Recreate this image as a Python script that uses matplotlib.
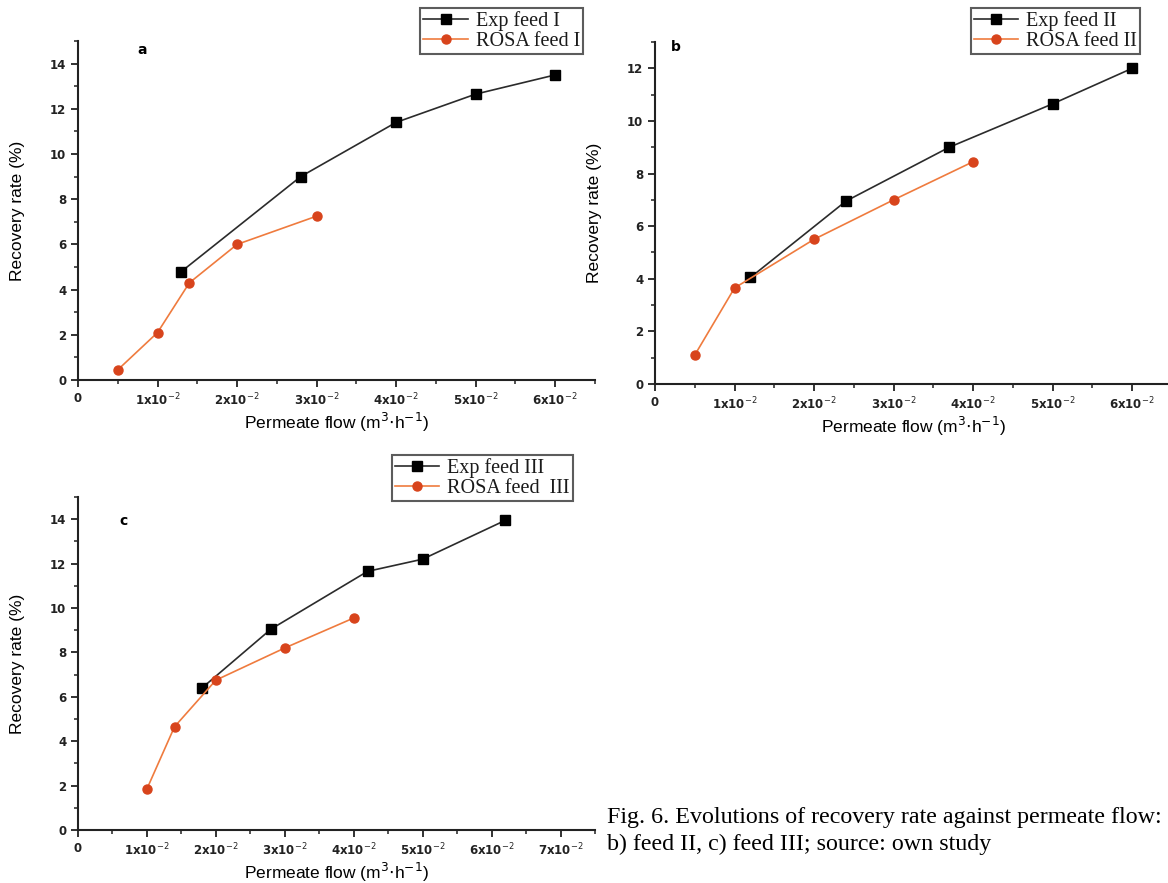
import matplotlib.pyplot as plt
from matplotlib.ticker import MultipleLocator, FuncFormatter

# panel a
a_exp_x = [0.013, 0.028, 0.040, 0.050, 0.060]
a_exp_y = [4.8, 9.0, 11.4, 12.65, 13.5]
a_rosa_x = [0.005, 0.010, 0.014, 0.020, 0.030]
a_rosa_y = [0.45, 2.1, 4.3, 6.0, 7.25]

# panel b
b_exp_x = [0.012, 0.024, 0.037, 0.050, 0.060]
b_exp_y = [4.05, 6.95, 9.0, 10.65, 12.0]
b_rosa_x = [0.005, 0.010, 0.020, 0.030, 0.040]
b_rosa_y = [1.1, 3.65, 5.5, 7.0, 8.45]

# panel c
c_exp_x = [0.018, 0.028, 0.042, 0.050, 0.062]
c_exp_y = [6.4, 9.05, 11.65, 12.2, 13.95]
c_rosa_x = [0.010, 0.014, 0.020, 0.030, 0.040]
c_rosa_y = [1.85, 4.65, 6.75, 8.2, 9.55]

# caption is cut at the right edge in the source, keep the visible part
caption = ["Fig. 6. Evolutions of recovery rate against permeate flow:",
           "b) feed II, c) feed III; source: own study"]

EXP_C = '#2b2b2b'
ROSA_LINE = '#ef7b3e'
ROSA_MK = '#d8441c'


def xfmt(v, pos):
    n = int(round(v * 100))
    if n == 0:
        return '0'
    return r'%dx10$^{-2}$' % n


def panel(fig, rect, ex, ey, rx, ry, xmax, ymax, letter, letter_xy,
          lab_exp, lab_rosa, leg_anchor):
    ax = fig.add_axes(rect)
    ax.plot(ex, ey, color=EXP_C, lw=1.2, marker='s', ms=6.5,
            mfc='black', mec='black', label=lab_exp)
    ax.plot(rx, ry, color=ROSA_LINE, lw=1.2, marker='o', ms=6.5,
            mfc=ROSA_MK, mec=ROSA_MK, label=lab_rosa)
    ax.set_xlim(0, xmax)
    ax.set_ylim(0, ymax)
    for s in ['top', 'right']:
        ax.spines[s].set_visible(False)
    for s in ['left', 'bottom']:
        ax.spines[s].set_linewidth(1.5)
        ax.spines[s].set_color('#222222')
    ax.xaxis.set_major_locator(MultipleLocator(0.01))
    ax.xaxis.set_minor_locator(MultipleLocator(0.005))
    ax.yaxis.set_major_locator(MultipleLocator(2))
    ax.yaxis.set_minor_locator(MultipleLocator(1))
    ax.xaxis.set_major_formatter(FuncFormatter(xfmt))
    ax.tick_params(which='major', direction='out', length=5, width=1.3,
                   labelsize=8.5, colors='#222222')
    ax.tick_params(which='minor', direction='out', length=3, width=1.1,
                   colors='#222222')
    for t in ax.get_xticklabels() + ax.get_yticklabels():
        t.set_fontweight('bold')
    ax.set_xlabel(r'Permeate flow (m$^3$$\cdot$h$^{-1}$)', fontsize=12.5,
                  family='Liberation Sans', labelpad=2)
    ax.set_ylabel('Recovery rate (%)', fontsize=12.5, family='Liberation Sans',
                  labelpad=18)
    ax.text(letter_xy[0], letter_xy[1], letter, transform=fig.transFigure,
            fontsize=10, fontweight='bold', ha='center', va='center')
    leg = fig.legend(handles=ax.get_lines(), loc='upper right',
                     bbox_to_anchor=leg_anchor, frameon=True, fancybox=False,
                     prop={'family': 'Liberation Serif', 'size': 14.5},
                     handlelength=2.2, handletextpad=0.4, borderpad=0.15,
                     labelspacing=0.05, borderaxespad=0)
    leg.get_frame().set_edgecolor('#333333')
    leg.get_frame().set_linewidth(1.5)
    for t in leg.get_texts():
        t.set_color('#1a1a1a')
    return ax


W, H = 1168, 883
fig = plt.figure(figsize=(W / 100, H / 100), dpi=100)

panel(fig, [78 / W, 1 - 380 / H, 517 / W, 339 / H],
      a_exp_x, a_exp_y, a_rosa_x, a_rosa_y, 0.065, 15,
      'a', (142 / W, 1 - 50 / H), 'Exp feed I', 'ROSA feed I',
      (583 / W, 1 - 8 / H))
panel(fig, [655 / W, 1 - 384 / H, 517 / W, 342 / H],
      b_exp_x, b_exp_y, b_rosa_x, b_rosa_y, 0.065, 13,
      'b', (676 / W, 1 - 47 / H), 'Exp feed II', 'ROSA feed II',
      (1140 / W, 1 - 8 / H))
panel(fig, [78 / W, 1 - 830 / H, 517 / W, 333 / H],
      c_exp_x, c_exp_y, c_rosa_x, c_rosa_y, 0.075, 15,
      'c', (123 / W, 1 - 521 / H), 'Exp feed III', 'ROSA feed  III',
      (573 / W, 1 - 455 / H))

fig.text(607 / W, 1 - 818 / H, caption[0], family='Liberation Serif',
         fontsize=17.3, ha='left', va='center')
fig.text(607 / W, 1 - 844 / H, caption[1], family='Liberation Serif',
         fontsize=17.3, ha='left', va='center')

fig.savefig('out.png', dpi=100)
